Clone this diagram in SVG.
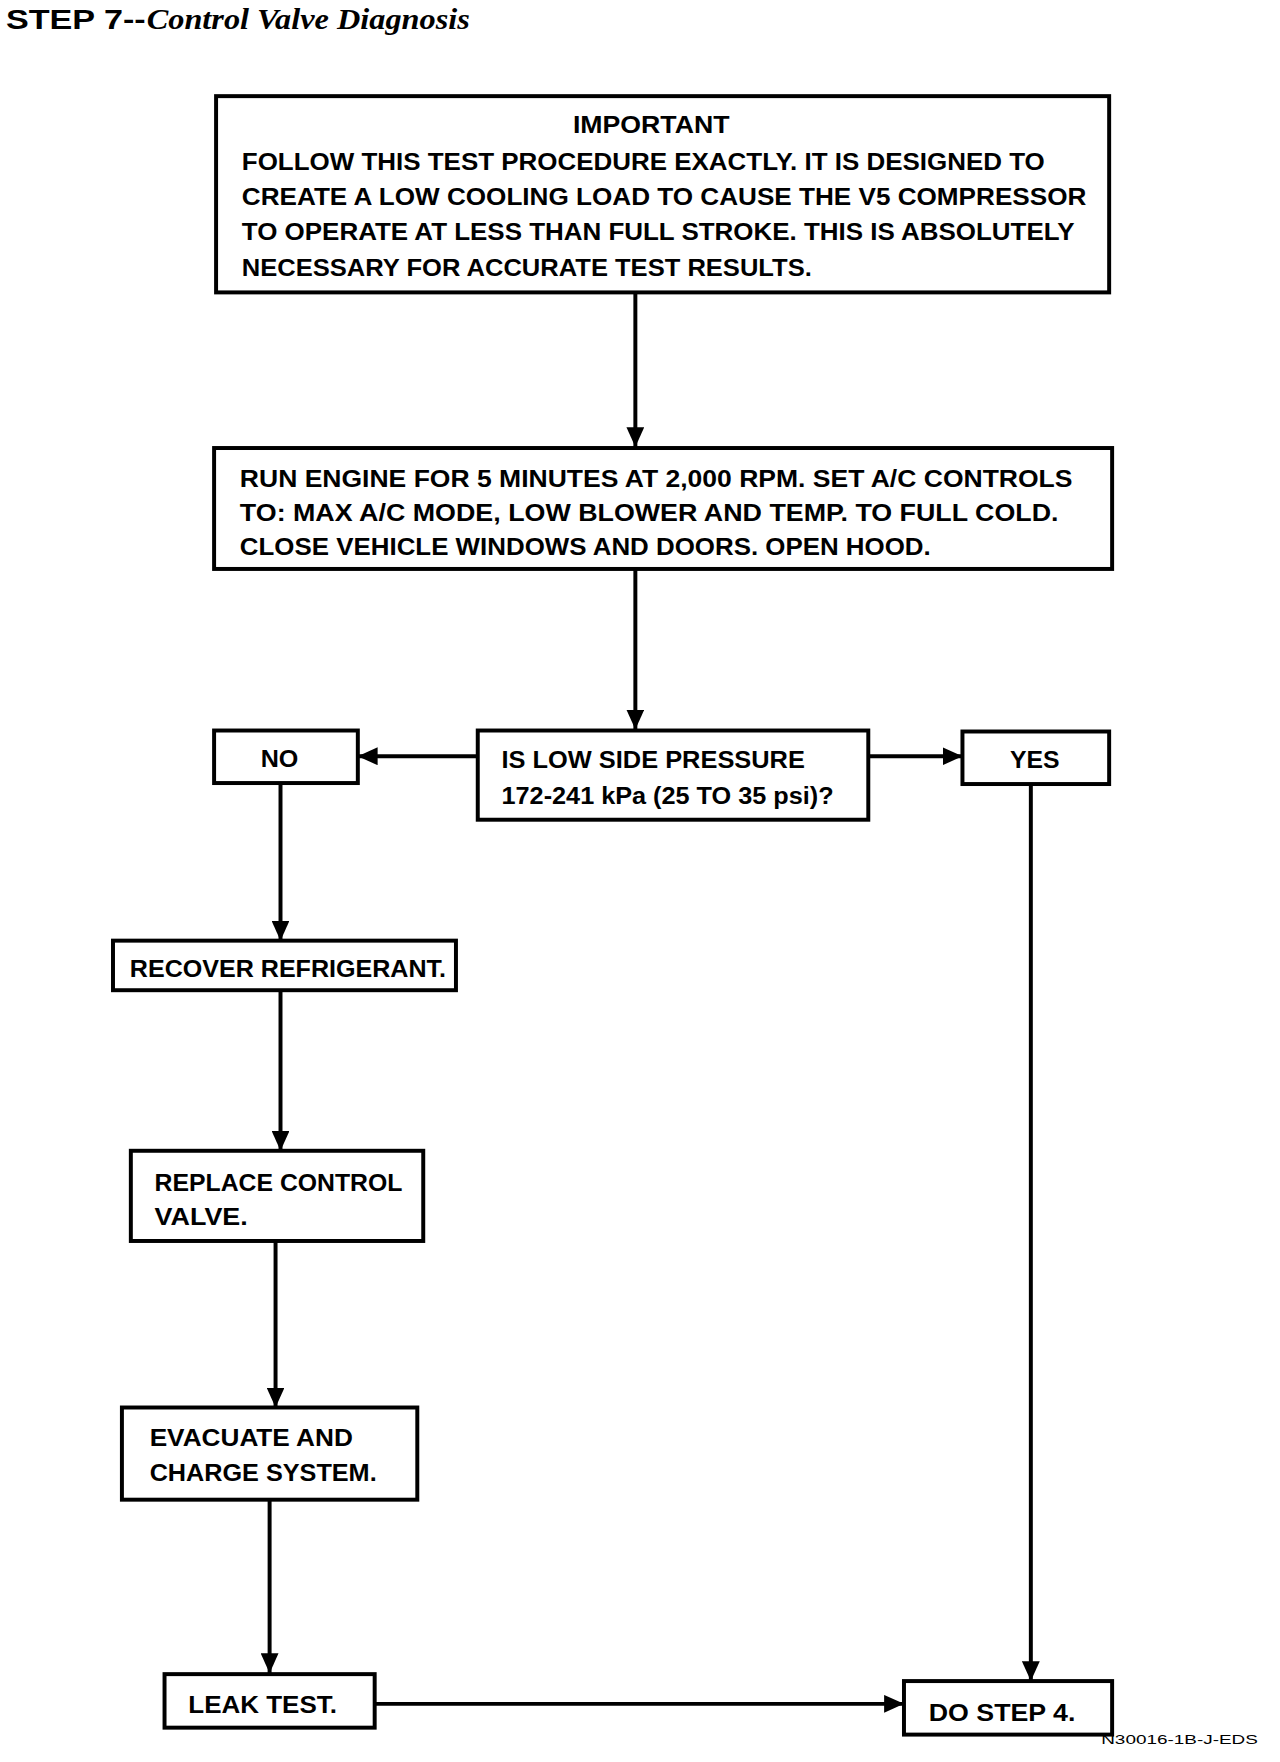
<svg xmlns="http://www.w3.org/2000/svg" width="1280" height="1762" viewBox="0 0 1280 1762">
<style>
.box{fill:#fff;stroke:#000;stroke-width:4}
.t{font-family:"Liberation Sans",Arial,sans-serif;font-weight:bold;font-size:25px;fill:#000}
.c{stroke:#000;stroke-width:4;fill:none;marker-end:url(#ah)}
</style>
<defs>
<marker id="ah" markerUnits="userSpaceOnUse" markerWidth="22" markerHeight="18" refX="20" refY="9" orient="auto">
<path d="M0,0 L20,9 L0,18 Z" fill="#000"/>
</marker>
</defs>
<rect width="1280" height="1762" fill="#fff"/>
<g transform="scale(0.9912)">
<g id="title">
<text x="6" y="29" font-family="Liberation Sans,Arial,sans-serif" font-weight="bold" font-size="28" textLength="141" lengthAdjust="spacingAndGlyphs">STEP 7--</text>
<text x="148" y="29" font-family="Liberation Serif,Times New Roman,serif" font-style="italic" font-weight="bold" font-size="30" textLength="326" lengthAdjust="spacingAndGlyphs">Control Valve Diagnosis</text>
</g>
<g id="connectors">
<line class="c" x1="641" y1="295" x2="641" y2="451"/>
<line class="c" x1="641" y1="574" x2="641" y2="736"/>
<line class="c" x1="482" y1="763" x2="361" y2="763"/>
<line class="c" x1="876" y1="763" x2="971" y2="763"/>
<line class="c" x1="283" y1="790" x2="283" y2="949"/>
<line class="c" x1="283" y1="999" x2="283" y2="1161"/>
<line class="c" x1="278" y1="1252" x2="278" y2="1420"/>
<line class="c" x1="272" y1="1513" x2="272" y2="1688"/>
<line class="c" x1="378" y1="1719" x2="912" y2="1719"/>
<line class="c" x1="1040" y1="791" x2="1040" y2="1696"/>
</g>
<g id="important">
<rect class="box" x="218" y="97" width="901" height="198"/>
<text class="t" x="657" y="134" text-anchor="middle" textLength="158" lengthAdjust="spacingAndGlyphs">IMPORTANT</text>
<text class="t" x="244" y="172" textLength="810" lengthAdjust="spacingAndGlyphs">FOLLOW THIS TEST PROCEDURE EXACTLY. IT IS DESIGNED TO</text>
<text class="t" x="244" y="207" textLength="852" lengthAdjust="spacingAndGlyphs">CREATE A LOW COOLING LOAD TO CAUSE THE V5 COMPRESSOR</text>
<text class="t" x="244" y="242" textLength="840" lengthAdjust="spacingAndGlyphs">TO OPERATE AT LESS THAN FULL STROKE. THIS IS ABSOLUTELY</text>
<text class="t" x="244" y="278" textLength="575" lengthAdjust="spacingAndGlyphs">NECESSARY FOR ACCURATE TEST RESULTS.</text>
</g>
<g id="run-engine">
<rect class="box" x="216" y="452" width="906" height="122"/>
<text class="t" x="242" y="491" textLength="840" lengthAdjust="spacingAndGlyphs">RUN ENGINE FOR 5 MINUTES AT 2,000 RPM. SET A/C CONTROLS</text>
<text class="t" x="242" y="526" textLength="826" lengthAdjust="spacingAndGlyphs">TO: MAX A/C MODE, LOW BLOWER AND TEMP. TO FULL COLD.</text>
<text class="t" x="242" y="560" textLength="697" lengthAdjust="spacingAndGlyphs">CLOSE VEHICLE WINDOWS AND DOORS. OPEN HOOD.</text>
</g>
<g id="decision">
<rect class="box" x="482" y="737" width="394" height="90"/>
<text class="t" x="506" y="775" textLength="306" lengthAdjust="spacingAndGlyphs">IS LOW SIDE PRESSURE</text>
<text class="t" x="506" y="811" textLength="335" lengthAdjust="spacingAndGlyphs">172-241 kPa (25 TO 35 psi)?</text>
</g>
<g id="no">
<rect class="box" x="216" y="737" width="145" height="53"/>
<text class="t" x="282" y="774" text-anchor="middle" textLength="38" lengthAdjust="spacingAndGlyphs">NO</text>
</g>
<g id="yes">
<rect class="box" x="971" y="738" width="148" height="53"/>
<text class="t" x="1044" y="775" text-anchor="middle" textLength="50" lengthAdjust="spacingAndGlyphs">YES</text>
</g>
<g id="recover">
<rect class="box" x="114" y="949" width="346" height="50"/>
<text class="t" x="131" y="986" textLength="319" lengthAdjust="spacingAndGlyphs">RECOVER REFRIGERANT.</text>
</g>
<g id="replace">
<rect class="box" x="132" y="1161" width="295" height="91"/>
<text class="t" x="156" y="1202" textLength="250" lengthAdjust="spacingAndGlyphs">REPLACE CONTROL</text>
<text class="t" x="156" y="1236" textLength="94" lengthAdjust="spacingAndGlyphs">VALVE.</text>
</g>
<g id="evacuate">
<rect class="box" x="123" y="1420" width="298" height="93"/>
<text class="t" x="151" y="1459" textLength="205" lengthAdjust="spacingAndGlyphs">EVACUATE AND</text>
<text class="t" x="151" y="1494" textLength="229" lengthAdjust="spacingAndGlyphs">CHARGE SYSTEM.</text>
</g>
<g id="leak-test">
<rect class="box" x="166" y="1689" width="212" height="54"/>
<text class="t" x="190" y="1728" textLength="150" lengthAdjust="spacingAndGlyphs">LEAK TEST.</text>
</g>
<g id="do-step-4">
<rect class="box" x="912" y="1696" width="210" height="54"/>
<text class="t" x="937" y="1736" textLength="148" lengthAdjust="spacingAndGlyphs">DO STEP 4.</text>
</g>
<g id="footer">
<text x="1269" y="1760" text-anchor="end" font-family="Liberation Sans,Arial,sans-serif" font-size="12" textLength="158" lengthAdjust="spacingAndGlyphs">N30016-1B-J-EDS</text>
</g>
</g>
</svg>
